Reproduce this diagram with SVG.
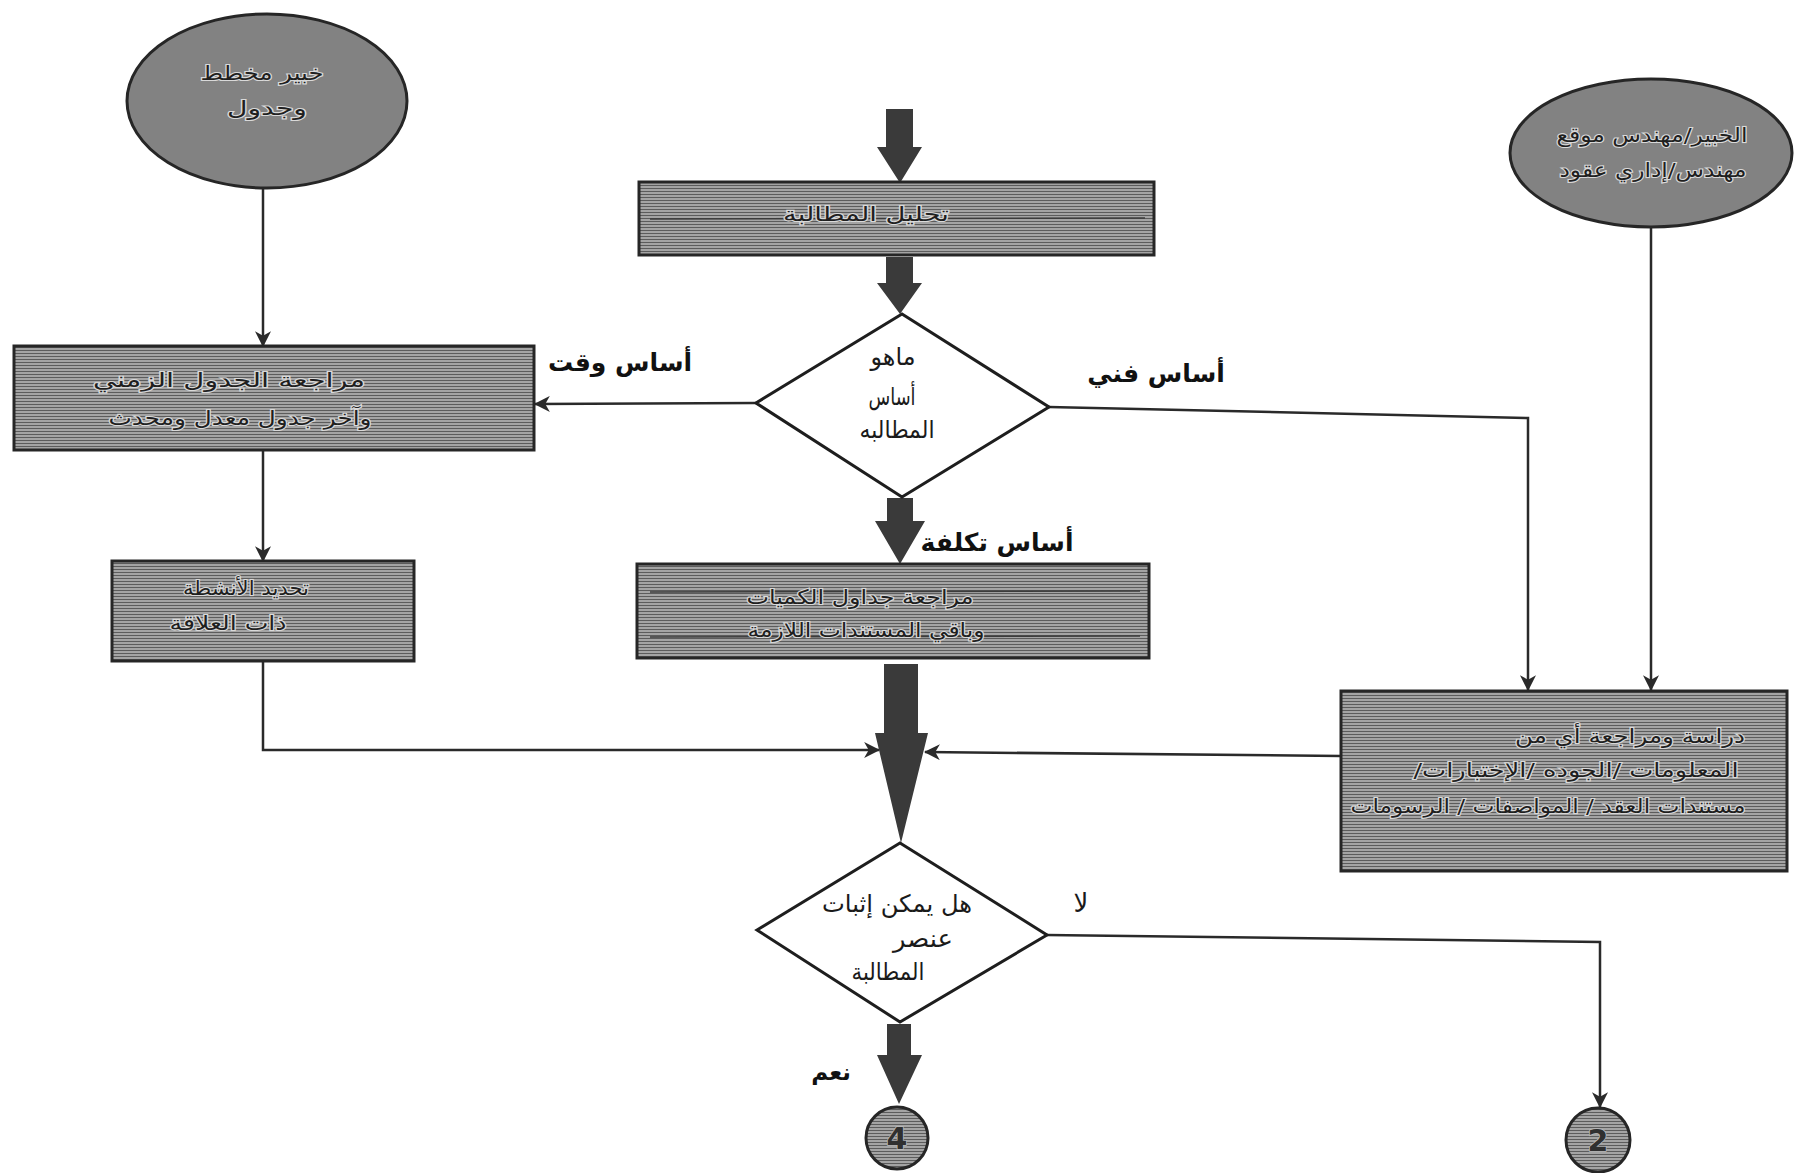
<svg xmlns="http://www.w3.org/2000/svg" width="1795" height="1173" viewBox="0 0 1795 1173">
<defs>
<pattern id="hatch" width="6" height="3" patternUnits="userSpaceOnUse">
<rect width="6" height="3" fill="#a4a4a4"/>
<rect y="2" width="6" height="1" fill="#5c5c5c"/>
</pattern>
<marker id="ah" viewBox="0 0 14 14" refX="13" refY="7" markerWidth="16" markerHeight="16" markerUnits="userSpaceOnUse" orient="auto">
<path d="M0,0 L14,7 L0,14 L4,7 z" fill="#2a2a2a"/>
</marker>
<style>
.box{fill:url(#hatch);stroke:#262626;stroke-width:3}
.ell{fill:#828282;stroke:#262626;stroke-width:3}
.dia{fill:#ffffff;stroke:#1e1e1e;stroke-width:3}
.circ{fill:url(#hatch);stroke:#262626;stroke-width:3}
.ln{fill:none;stroke:#2a2a2a;stroke-width:2.5}
.big{fill:#3a3a3a}
.rule{stroke:#3c3c3c;stroke-width:1.5}
.bt{font-family:"DejaVu Sans",sans-serif;font-size:20px;fill:#1f1f1f;stroke:#d9d9d9;stroke-width:2.2px;paint-order:stroke;text-anchor:middle}
.dt{font-family:"DejaVu Sans",sans-serif;font-size:24px;fill:#1a1a1a;text-anchor:middle}
.lb{font-family:"DejaVu Sans",sans-serif;font-size:25px;font-weight:bold;fill:#111;text-anchor:middle}
.num{font-family:"DejaVu Sans",sans-serif;font-size:30px;font-weight:bold;fill:#303030;stroke:#bbbbbb;stroke-width:1.5px;paint-order:stroke;text-anchor:middle}
</style>
</defs>

<g id="connectors">
<line class="ln" x1="263" y1="189" x2="263" y2="346" marker-end="url(#ah)"/>
<line class="ln" x1="263" y1="451" x2="263" y2="561" marker-end="url(#ah)"/>
<polyline class="ln" points="263,661 263,750 879,750" marker-end="url(#ah)"/>
<line class="ln" x1="756" y1="403" x2="535" y2="404" marker-end="url(#ah)"/>
<polyline class="ln" points="1049,407 1528,418 1528,690" marker-end="url(#ah)"/>
<line class="ln" x1="1651" y1="228" x2="1651" y2="690" marker-end="url(#ah)"/>
<line class="ln" x1="1341" y1="756" x2="925" y2="752" marker-end="url(#ah)"/>
<polyline class="ln" points="1047,935 1600,942 1600,1107" marker-end="url(#ah)"/>
<polygon class="big" points="886,109 913,109 913,147 922,147 900,183 877,147 886,147"/>
<polygon class="big" points="886,257 913,257 913,283 922,283 900,314 877,283 886,283"/>
<polygon class="big" points="887,498 913,498 913,521 925,521 900,564 875,521 887,521"/>
<polygon class="big" points="884,664 918,664 918,733 928,733 901,843 875,733 884,733"/>
<polygon class="big" points="887,1024 911,1024 911,1055 922,1055 899,1104 877,1055 887,1055"/>
</g>

<g id="n-expert-schedule">
<ellipse class="ell" cx="267" cy="101" rx="140" ry="87"/>
<text class="bt" x="262" y="80" textLength="123" lengthAdjust="spacingAndGlyphs">خبير مخطط</text>
<text class="bt" x="267" y="115" textLength="80" lengthAdjust="spacingAndGlyphs">وجدول</text>
</g>

<g id="n-expert-site">
<ellipse class="ell" cx="1651" cy="153" rx="141" ry="74"/>
<text class="bt" x="1652" y="142" textLength="191" lengthAdjust="spacingAndGlyphs">الخبير/مهندس موقع</text>
<text class="bt" x="1653" y="177" textLength="187" lengthAdjust="spacingAndGlyphs">مهندس/إداري عقود</text>
</g>

<g id="n-analysis">
<rect class="box" x="639" y="182" width="515" height="73"/>
<line class="rule" x1="650" y1="219" x2="1145" y2="218"/>
<text class="bt" x="866" y="221" textLength="166" lengthAdjust="spacingAndGlyphs">تحليل المطالبة</text>
</g>

<g id="n-basis">
<polygon class="dia" points="902,314 1049,407 902,497 756,403"/>
<text class="dt" x="893" y="365" textLength="45" lengthAdjust="spacingAndGlyphs">ماهو</text>
<text class="dt" x="892" y="405" textLength="47" lengthAdjust="spacingAndGlyphs">أساس</text>
<text class="dt" x="897" y="438" textLength="75" lengthAdjust="spacingAndGlyphs">المطالبه</text>
</g>

<g id="n-schedule-review">
<rect class="box" x="14" y="346" width="520" height="104"/>
<text class="bt" x="229" y="387" textLength="272" lengthAdjust="spacingAndGlyphs">مراجعة الجدول الزمني</text>
<text class="bt" x="240" y="425" textLength="263" lengthAdjust="spacingAndGlyphs">وآخر جدول معدل ومحدث</text>
</g>

<g id="n-activities">
<rect class="box" x="112" y="561" width="302" height="100"/>
<text class="bt" x="246" y="595" textLength="126" lengthAdjust="spacingAndGlyphs">تحديد الأنشطة</text>
<text class="bt" x="228" y="630" textLength="117" lengthAdjust="spacingAndGlyphs">ذات العلاقة</text>
</g>

<g id="n-quantities">
<rect class="box" x="637" y="564" width="512" height="94"/>
<line class="rule" x1="650" y1="592" x2="1140" y2="591"/>
<line class="rule" x1="650" y1="637" x2="1140" y2="636"/>
<text class="bt" x="860" y="604" textLength="227" lengthAdjust="spacingAndGlyphs">مراجعة جداول الكميات</text>
<text class="bt" x="866" y="637" textLength="237" lengthAdjust="spacingAndGlyphs">وباقي المستندات اللازمة</text>
</g>

<g id="n-technical-review">
<rect class="box" x="1341" y="691" width="446" height="180"/>
<text class="bt" x="1630" y="743" textLength="230" lengthAdjust="spacingAndGlyphs">دراسة ومراجعة أي من</text>
<text class="bt" x="1576" y="777" textLength="325" lengthAdjust="spacingAndGlyphs">/&#x200E;الإختبارات&#x200E;/ الجوده&#x200E;/ المعلومات</text>
<text class="bt" x="1548" y="813" textLength="395" lengthAdjust="spacingAndGlyphs">الرسومات&#x200E; / &#x200E;المواصفات&#x200E; / &#x200E;مستندات العقد</text>
</g>

<g id="n-provable">
<polygon class="dia" points="900,843 1047,935 900,1022 757,930"/>
<text class="dt" x="897" y="912" textLength="150" lengthAdjust="spacingAndGlyphs">هل يمكن إثبات</text>
<text class="dt" x="923" y="947" textLength="60" lengthAdjust="spacingAndGlyphs">عنصر</text>
<text class="dt" x="888" y="980" textLength="73" lengthAdjust="spacingAndGlyphs">المطالبة</text>
</g>

<g id="n-connector-4">
<circle class="circ" cx="897" cy="1138" r="31"/>
<text class="num" x="897" y="1149">4</text>
</g>

<g id="n-connector-2">
<circle class="circ" cx="1598" cy="1140" r="32"/>
<text class="num" x="1598" y="1151">2</text>
</g>

<g id="labels">
<text class="lb" x="620" y="371">أساس وقت</text>
<text class="lb" x="1156" y="382">أساس فني</text>
<text class="lb" x="997" y="551">أساس تكلفة</text>
<text class="dt" x="1081" y="912" style="font-size:26px">لا</text>
<text class="lb" x="831" y="1080" style="font-size:23px">نعم</text>
</g>
</svg>
